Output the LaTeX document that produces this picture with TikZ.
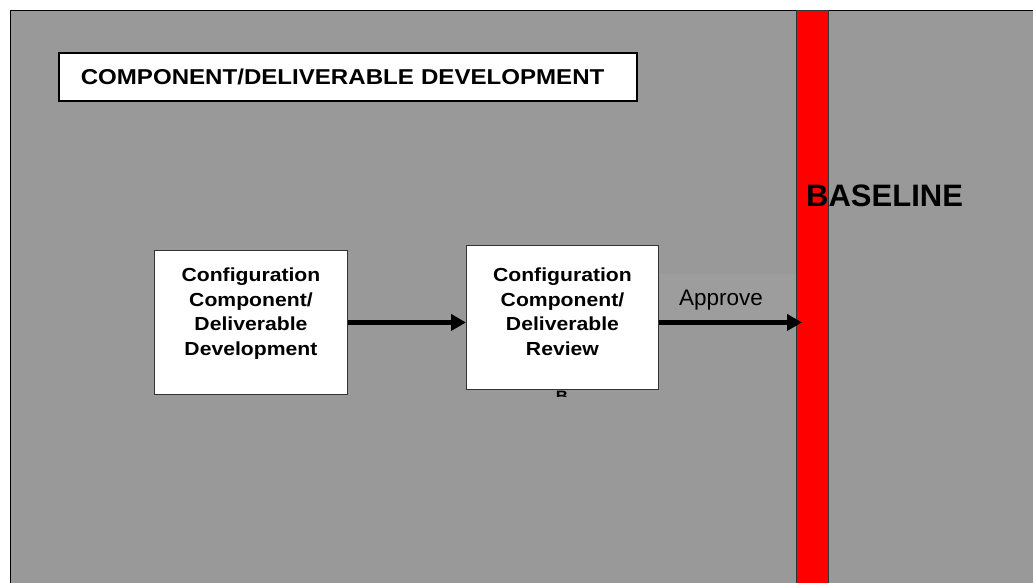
\documentclass[tikz,border=0pt]{standalone}
\usepackage{fontspec}
\setmainfont{Liberation Sans}
\newfontfamily\widefont[FakeStretch=1.12]{Liberation Sans}
\usetikzlibrary{positioning}
\usetikzlibrary{arrows.meta}

\tikzset{
	titlebox/.style={draw=black, line width=1.6pt, fill=white, text width=534pt, inner xsep=22pt, inner ysep=0pt, minimum height=48pt, align=left, font=\widefont\bfseries\fontsize{21.5}{25}\selectfont},
	cbox/.style={draw=black!80, line width=0.9pt, fill=white, minimum width=193pt, minimum height=144pt, inner sep=0pt},
	ctext/.style={align=center, inner sep=0pt, font=\widefont\bfseries\fontsize{18.9}{24.5}\selectfont},
	basebar/.style={draw=black!80, line width=0.9pt, fill=red, minimum width=32pt, minimum height=600pt, inner sep=0pt},
	flow/.style={line width=4.8pt, -{Triangle[length=15pt,width=16pt]}}
}

\begin{document}
\begin{tikzpicture}[x=1pt,y=-1pt]
	\useasboundingbox (0,0) rectangle (1033,582);
	\draw[fill=black!40, line width=0.9pt] (10,10) rectangle (1045,595);

	\node[titlebox, anchor=north west] (title) at (58,52) {COMPONENT/DELIVERABLE DEVELOPMENT};

	\node[basebar, anchor=north west] (base) at (796,10) {};
	\node[anchor=base west, inner sep=0pt, font=\bfseries\fontsize{31}{36}\selectfont] (basetext) at (806,206.5) {BASELINE};

	\node[cbox, anchor=north west] (dev) at (154,250) {};
	\node[ctext, below=18pt of dev.north] (devtext) {Configuration\\Component/\\Deliverable\\Development};
	\node[cbox, minimum width=192pt, anchor=north west] (rev) at (466,245) {};
	\node[ctext, below=23pt of rev.north] (revtext) {Configuration\\Component/\\Deliverable\\Review};

	% text cut off under the review box
	\begin{scope}
		\clip (540,389.5) rectangle (590,396.5);
		\node[ctext, font=\widefont\bfseries\fontsize{15}{18}\selectfont, anchor=north] (revnote) at (562,390.5) {B};
	\end{scope}

	\node[fill=black!38.5, minimum width=137pt, minimum height=47pt, inner sep=0pt, anchor=north west] (approveband) at (658.5,274) {};
	\node[anchor=base west, inner sep=0pt, font=\fontsize{22.5}{27}\selectfont] (approve) at (679,305.5) {Approve};

	\draw[flow] (dev.east) -- (dev.east -| rev.west);
	\draw[flow] (rev.east |- dev.east) -- ([xshift=6pt]base.west |- dev.east);
\end{tikzpicture}
\end{document}
